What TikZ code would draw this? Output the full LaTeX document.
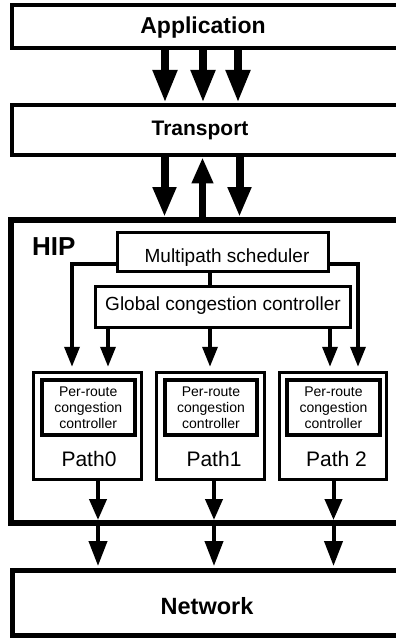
\documentclass[tikz,border=0pt]{standalone}
\usepackage{fontspec}
\setmainfont{Liberation Sans}
\usetikzlibrary{arrows.meta}
\begin{document}
\begin{tikzpicture}[x=1pt,y=-1pt,
  layer/.style={draw, rectangle, inner sep=0pt, minimum width=400pt},
  innerbox/.style={draw, rectangle, inner sep=0pt, line width=3pt},
  routebox/.style={draw, rectangle, inner sep=0pt, line width=4pt, minimum height=55pt, align=center, font=\fontsize{14}{16}\selectfont},
  txt/.style={inner sep=0pt, anchor=base},
  bigdown/.style={line width=8pt, -{Triangle[length=33pt,width=23pt]}},
  bigup/.style={line width=7pt, -{Triangle[length=26pt,width=20pt]}},
  smallarrow/.style={line width=3.5pt, -{Triangle[length=20pt,width=15pt]}, shorten >=4pt},
  patharrow/.style={line width=4pt, -{Triangle[length=21pt,width=17pt]}},
  link/.style={line width=3.5pt}
]
\useasboundingbox (0,0) rectangle (396,638);
\clip (0,0) rectangle (396,638);
\fill[white] (0,0) rectangle (396,638);

% layers
\node[layer, line width=4pt, minimum height=43pt] (app) at (212,26.5) {};
\node[txt, font=\fontsize{23}{27}\selectfont\bfseries] (apptext) at (203,33.5) {Application};

\node[layer, line width=4pt, minimum height=50.5pt] (tr) at (212,130) {};
\node[txt, font=\fontsize{21}{25}\selectfont\bfseries] (trtext) at (200,135) {Transport};

\node[layer, line width=6pt, minimum height=303pt] (hip) at (211,371.5) {};
\node[inner sep=0pt, anchor=base west, font=\fontsize{26}{30}\selectfont\bfseries] (hiptext) at (32,255) {HIP};

\node[layer, line width=5pt, minimum height=64.5pt] (net) at (212,602.75) {};
\node[txt, font=\fontsize{23.5}{28}\selectfont\bfseries] (nettext) at (207,614) {Network};

% HIP internals
\node[innerbox, minimum width=211pt, minimum height=39pt] (ms) at (223,252) {};
\node[txt, font=\fontsize{19}{23}\selectfont] (mstext) at (227,262) {Multipath scheduler};

\node[innerbox, minimum width=255pt, minimum height=41pt] (gcc) at (223,307) {};
\node[txt, font=\fontsize{19}{23}\selectfont] (gcctext) at (223,310) {Global congestion controller};

\node[innerbox, minimum width=108pt, minimum height=107.5pt] (p0) at (87.5,426) {};
\node[innerbox, minimum width=108pt, minimum height=107.5pt] (p1) at (210.5,426) {};
\node[innerbox, minimum width=107pt, minimum height=107.5pt] (p2) at (333,426) {};

\node[routebox, minimum width=92.5pt] (i0) at (88.25,407.5) {Per-route\\congestion\\controller};
\node[routebox, minimum width=92pt] (i1) at (211,407.5) {Per-route\\congestion\\controller};
\node[routebox, minimum width=93pt] (i2) at (333.5,407.5) {Per-route\\congestion\\controller};

\node[txt, font=\fontsize{21}{25}\selectfont] (p0text) at (89,466.7) {Path0};
\node[txt, font=\fontsize{21}{25}\selectfont] (p1text) at (214,466.7) {Path1};
\node[txt, font=\fontsize{21}{25}\selectfont] (p2text) at (336.5,466.7) {Path 2};

% Application -> Transport
\draw[bigdown] (165,0 |- app.south) -- (165,0 |- tr.north);
\draw[bigdown] (203,0 |- app.south) -- (203,0 |- tr.north);
\draw[bigdown] (238,0 |- app.south) -- (238,0 |- tr.north);

% Transport <-> HIP
\draw[bigdown, -{Triangle[length=30pt,width=22pt]}] (164.5,0 |- tr.south) -- (164.5,0 |- hip.north);
\draw[bigup] (202.5,0 |- hip.north) -- (202.5,0 |- tr.south);
\draw[bigdown, -{Triangle[length=30pt,width=22pt]}] (239.5,0 |- tr.south) -- (239.5,0 |- hip.north);

% scheduler -> global controller
\draw[link] (210,0 |- ms.south) -- (210,0 |- gcc.north);

% scheduler -> paths
\draw[smallarrow] (ms.west |- 0,264) -| (72,0 |- p0.north);
\draw[smallarrow] (ms.east |- 0,264) -| (358,0 |- p2.north);

% global controller -> paths
\draw[smallarrow] (108,0 |- gcc.south) -- (108,0 |- p0.north);
\draw[smallarrow] (210,0 |- gcc.south) -- (210,0 |- p1.north);
\draw[smallarrow] (330,0 |- gcc.south) -- (330,0 |- p2.north);

% paths -> HIP boundary
\draw[patharrow, shorten >=6pt] (98,0 |- p0.south) -- (98,0 |- hip.south);
\draw[patharrow, shorten >=6pt] (214,0 |- p1.south) -- (214,0 |- hip.south);
\draw[patharrow, shorten >=6pt] (333.5,0 |- p2.south) -- (333.5,0 |- hip.south);

% HIP -> Network
\draw[patharrow, -{Triangle[length=25pt,width=18pt]}, shorten >=2pt] (98,0 |- hip.south) -- (98,0 |- net.north);
\draw[patharrow, -{Triangle[length=25pt,width=18pt]}, shorten >=2pt] (214,0 |- hip.south) -- (214,0 |- net.north);
\draw[patharrow, -{Triangle[length=25pt,width=18pt]}, shorten >=2pt] (333.5,0 |- hip.south) -- (333.5,0 |- net.north);
\end{tikzpicture}
\end{document}
